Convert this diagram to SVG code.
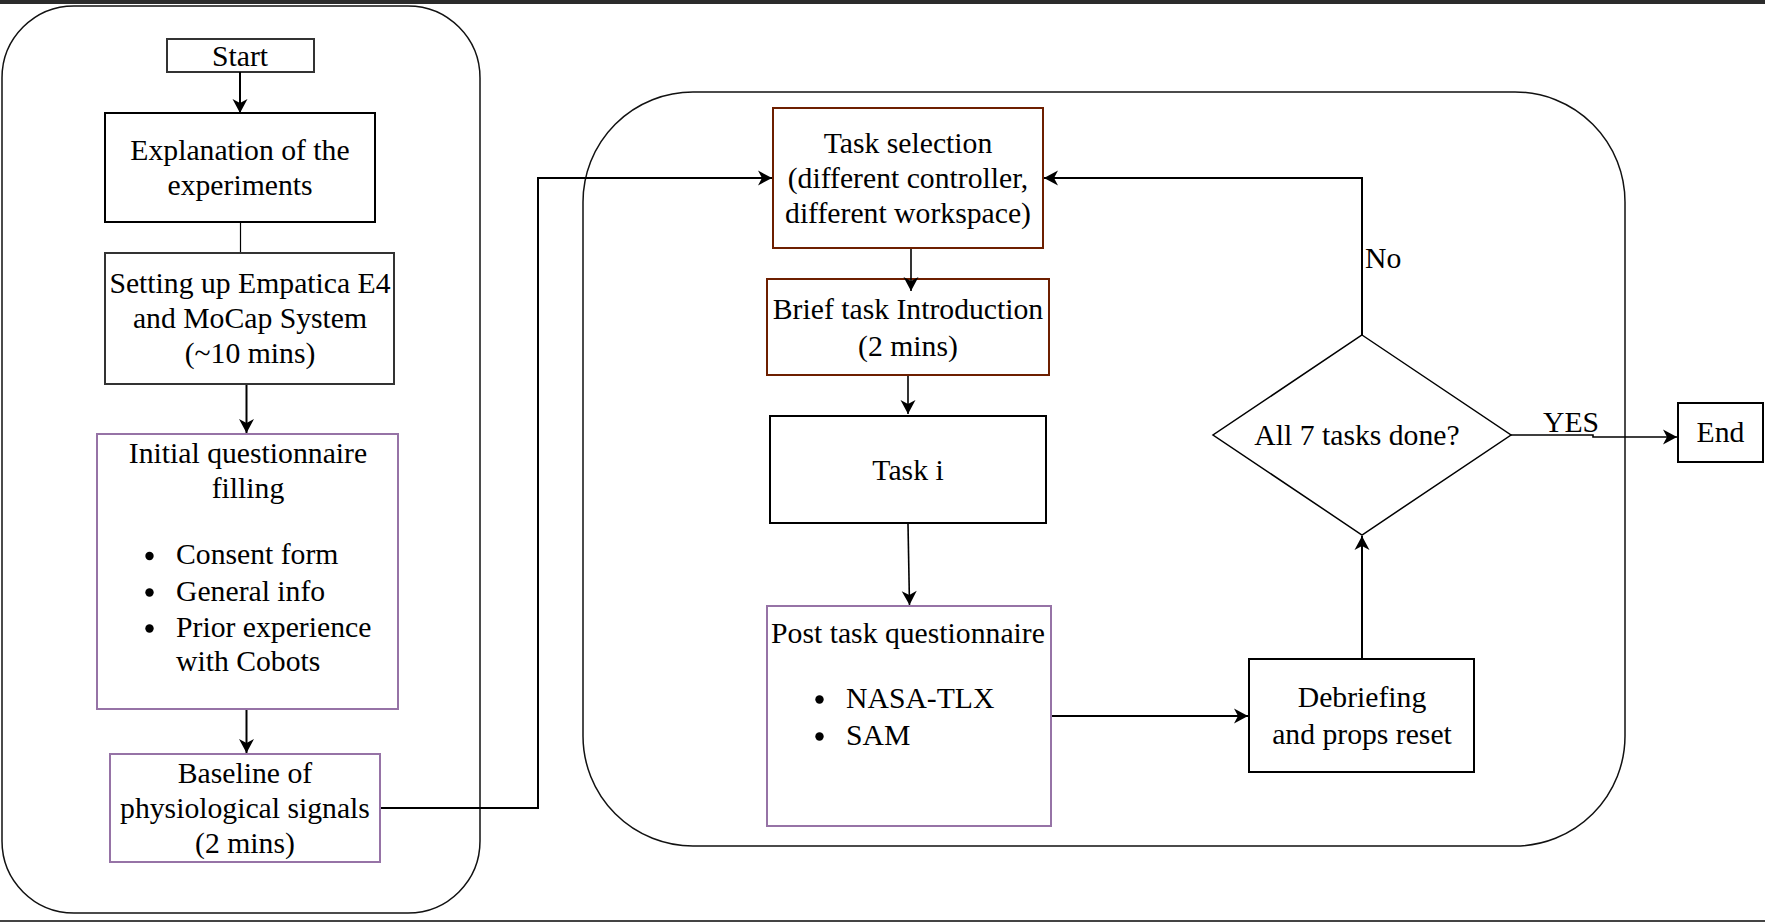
<svg xmlns="http://www.w3.org/2000/svg" width="1765" height="922" viewBox="0 0 1765 922">
<defs>
<style>
.t{font-family:"Liberation Serif","Times New Roman",serif;font-size:29.7px;fill:#000}
.c{text-anchor:middle}
.cont{fill:none;stroke:#111;stroke-width:1.5}
.blk{fill:#fff;stroke:#000;stroke-width:2}
.gry{fill:#fff;stroke:#333;stroke-width:2}
.pur{fill:#fff;stroke:#9673a6;stroke-width:2}
.brn{fill:#fff;stroke:#6d1f00;stroke-width:2}
.ln{fill:none;stroke:#000;stroke-width:2}
.thin{fill:none;stroke:#000;stroke-width:1.2}
</style>
<marker id="ah" viewBox="-15 -8 16 16" refX="0" refY="0" markerWidth="16" markerHeight="16" orient="auto" markerUnits="userSpaceOnUse">
<path d="M0,0 L-14,-7.5 L-10,0 L-14,7.5 Z" fill="#000"/>
</marker>
</defs>
<rect x="0" y="0" width="1765" height="922" fill="#fff"/>
<rect x="0" y="0" width="1765" height="4" fill="#2b2b2b"/>
<rect x="0" y="920" width="1765" height="2" fill="#444"/>

<g id="containers">
<rect class="cont" x="2" y="6" width="478" height="907" rx="72" ry="72"/>
<rect class="cont" x="583" y="92" width="1042" height="754" rx="110" ry="110"/>
</g>

<g id="start">
<rect class="gry" x="167" y="39" width="147" height="33"/>
<text class="t c" x="240" y="65.5">Start</text>
</g>

<g id="explanation">
<rect class="blk" x="105" y="113" width="270" height="109"/>
<text class="t c" x="240" y="159.5">Explanation of the</text>
<text class="t c" x="240" y="195">experiments</text>
</g>

<g id="setup">
<rect class="gry" x="105" y="253" width="289" height="131"/>
<text class="t c" x="250" y="293">Setting up Empatica E4</text>
<text class="t c" x="250" y="328">and MoCap System</text>
<text class="t c" x="250" y="363">(~10 mins)</text>
</g>

<g id="initial-questionnaire">
<rect class="pur" x="97" y="434" width="301" height="275"/>
<text class="t c" x="248" y="463">Initial questionnaire</text>
<text class="t c" x="248" y="498">filling</text>
<circle cx="149.5" cy="556" r="4.2" fill="#000"/>
<circle cx="149.5" cy="592.5" r="4.2" fill="#000"/>
<circle cx="149.5" cy="628.5" r="4.2" fill="#000"/>
<text class="t" x="176" y="564">Consent form</text>
<text class="t" x="176" y="600.5">General info</text>
<text class="t" x="176" y="636.5">Prior experience</text>
<text class="t" x="176" y="671">with Cobots</text>
</g>

<g id="baseline">
<rect class="pur" x="110" y="754" width="270" height="108"/>
<text class="t c" x="245" y="783">Baseline of</text>
<text class="t c" x="245" y="817.5">physiological signals</text>
<text class="t c" x="245" y="852.5">(2 mins)</text>
</g>

<g id="task-selection">
<rect class="brn" x="773" y="108" width="270" height="140"/>
<text class="t c" x="908" y="153">Task selection</text>
<text class="t c" x="908" y="188">(different controller,</text>
<text class="t c" x="908" y="223">different workspace)</text>
</g>

<g id="brief-intro">
<rect class="brn" x="767" y="279" width="282" height="96"/>
<text class="t c" x="908" y="319">Brief task Introduction</text>
<text class="t c" x="908" y="356">(2 mins)</text>
</g>

<g id="task-i">
<rect class="blk" x="770" y="416" width="276" height="107"/>
<text class="t c" x="908" y="479.5">Task i</text>
</g>

<g id="post-questionnaire">
<rect class="pur" x="767" y="606" width="284" height="220"/>
<text class="t c" x="908" y="643">Post task questionnaire</text>
<circle cx="819.5" cy="699.5" r="4.2" fill="#000"/>
<circle cx="819.5" cy="736.5" r="4.2" fill="#000"/>
<text class="t" x="846" y="708">NASA-TLX</text>
<text class="t" x="846" y="745">SAM</text>
</g>

<g id="debriefing">
<rect class="blk" x="1249" y="659" width="225" height="113"/>
<text class="t c" x="1362" y="707">Debriefing</text>
<text class="t c" x="1362" y="744">and props reset</text>
</g>

<g id="decision">
<polygon points="1362,335 1511,435 1362,535 1213,435" fill="#fff" stroke="#000" stroke-width="1.5"/>
<text class="t c" x="1357" y="445">All 7 tasks done?</text>
</g>

<g id="end">
<rect class="blk" x="1678" y="403" width="85" height="59"/>
<text class="t c" x="1720.5" y="442">End</text>
</g>

<g id="connectors">
<path class="ln" d="M240,72 V113" marker-end="url(#ah)"/>
<path class="thin" d="M240.5,223 V252"/>
<path class="ln" d="M246.5,385 V433" marker-end="url(#ah)"/>
<path class="ln" d="M246.5,710 V753" marker-end="url(#ah)"/>
<path class="ln" d="M381,808 H538 V178 H772" marker-end="url(#ah)"/>
<path class="thin" d="M911,249 V291" marker-end="url(#ah)" style="stroke-width:1.6"/>
<path class="thin" d="M908,376 V414" marker-end="url(#ah)" style="stroke-width:1.6"/>
<path class="thin" d="M908,524 L909.5,605" marker-end="url(#ah)" style="stroke-width:1.6"/>
<path class="ln" d="M1052,716 H1248" marker-end="url(#ah)"/>
<path class="ln" d="M1362,658 V536" marker-end="url(#ah)"/>
<path class="ln" d="M1362,335 V178 H1044" marker-end="url(#ah)"/>
<path class="thin" d="M1511,435 H1593 V437 H1677" marker-end="url(#ah)" style="stroke-width:1.6"/>
<text class="t" x="1365" y="268">No</text>
<text class="t" x="1543" y="432">YES</text>
</g>
</svg>
